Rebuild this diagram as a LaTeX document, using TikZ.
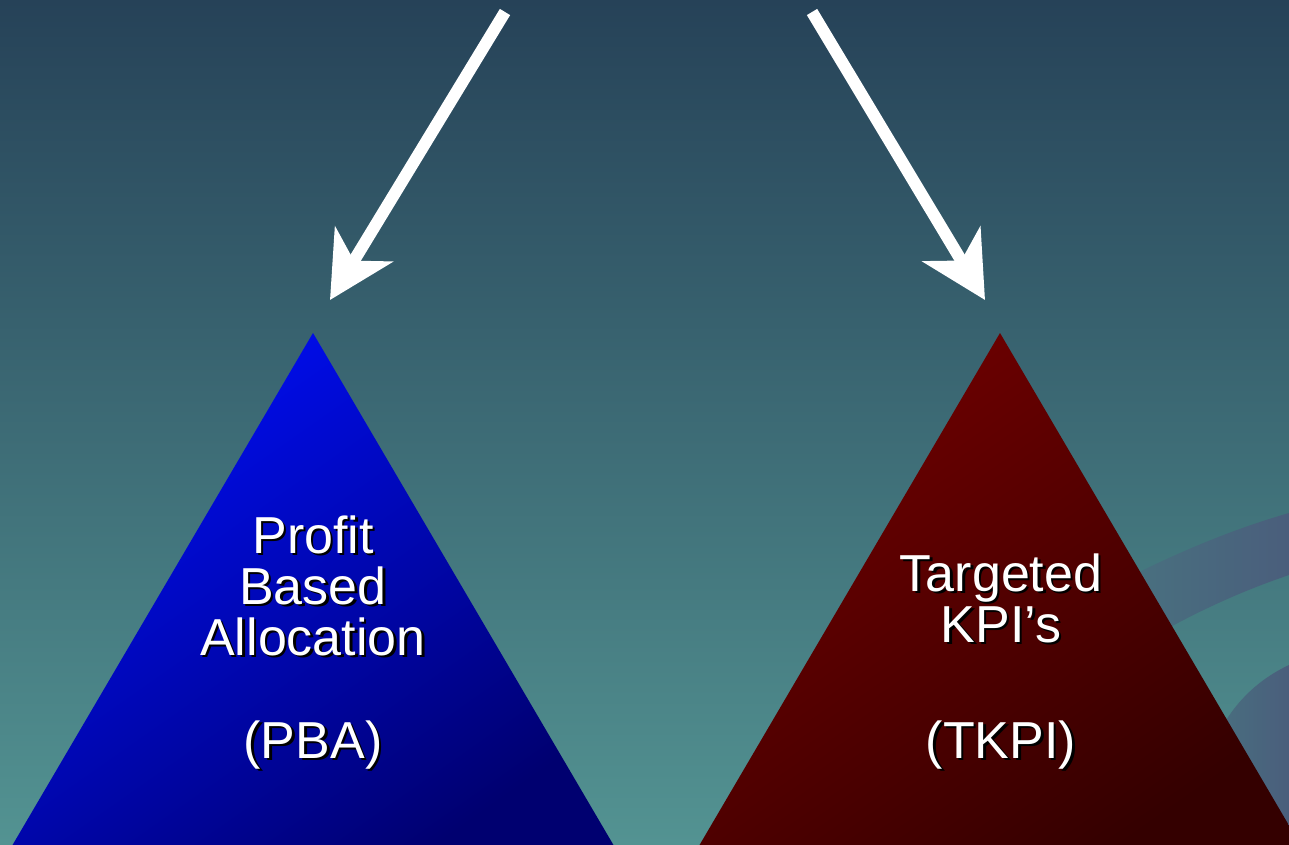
\documentclass[tikz,border=0pt]{standalone}
\usepackage{fontspec}
\setmainfont{Liberation Sans}
\usetikzlibrary{arrows.meta}
\definecolor{bgtop}{RGB}{38,66,88}
\definecolor{bgbot}{RGB}{83,147,146}
\definecolor{bandL}{RGB}{72,116,128}
\definecolor{bandR}{RGB}{74,94,124}
\definecolor{pbahi}{RGB}{0,14,245}
\definecolor{pbalo}{RGB}{0,0,112}
\definecolor{tkpihi}{RGB}{112,0,0}
\definecolor{tkpilo}{RGB}{52,0,0}
\tikzset{
  bigarrow/.style={white, line width=12pt,
    -{Stealth[length=65pt, width=67pt, inset=19pt]}},
  label/.style={font=\fontsize{52}{51}\selectfont, align=center,
    inner sep=0pt, anchor=base},
  shadowtext/.style={label, black, xshift=2.5pt, yshift=-2.5pt},
  fronttext/.style={label, white}
}
\begin{document}
\begin{tikzpicture}[x=1pt, y=-1pt]
  % backdrop
  \useasboundingbox (0,0) rectangle (1289,844);
  \shade[top color=bgtop, bottom color=bgbot] (0,0) rectangle (1289,844);

  % decorative swooshes at the right edge
  \shade[left color=bandL, right color=bandR]
    (1100,592) .. controls (1170,555) and (1230,530) .. (1289,513)
    -- (1289,575) .. controls (1230,595) and (1180,620) .. (1130,650) -- cycle;
  \shade[left color=bandL, right color=bandR]
    (1195,844) .. controls (1195,760) and (1225,695) .. (1289,665)
    -- (1289,844) -- cycle;

  % the two pyramids
  \shade[top color=pbahi, bottom color=pbalo, shading angle=35]
    (313,333) -- (617,851) -- (9,851) -- cycle;
  \shade[top color=tkpihi, bottom color=tkpilo, shading angle=35]
    (1000,333) -- (1304,851) -- (696,851) -- cycle;

  % arrows pointing down to the pyramids
  \coordinate (la) at (505,12);
  \coordinate (lb) at (330,300);
  \coordinate (ra) at (812,12);
  \coordinate (rb) at (985,300);
  \draw[bigarrow] (la) -- (lb);
  \draw[bigarrow] (ra) -- (rb);

  % labels with drop shadows (anchored on the last line's baseline)
  \node[shadowtext] (pbas) at (313,655) {Profit\\Based\\Allocation};
  \node[fronttext]  (pba)  at (313,655) {Profit\\Based\\Allocation};
  \node[shadowtext] (pbaas) at (313,758) {(PBA)};
  \node[fronttext]  (pbaa)  at (313,758) {(PBA)};

  \node[shadowtext] (tkpis) at (1001,642) {Targeted\\KPI’s};
  \node[fronttext]  (tkpi)  at (1001,642) {Targeted\\KPI’s};
  \node[shadowtext] (tkpias) at (1001,758) {(TKPI)};
  \node[fronttext]  (tkpia)  at (1001,758) {(TKPI)};
\end{tikzpicture}
\end{document}
